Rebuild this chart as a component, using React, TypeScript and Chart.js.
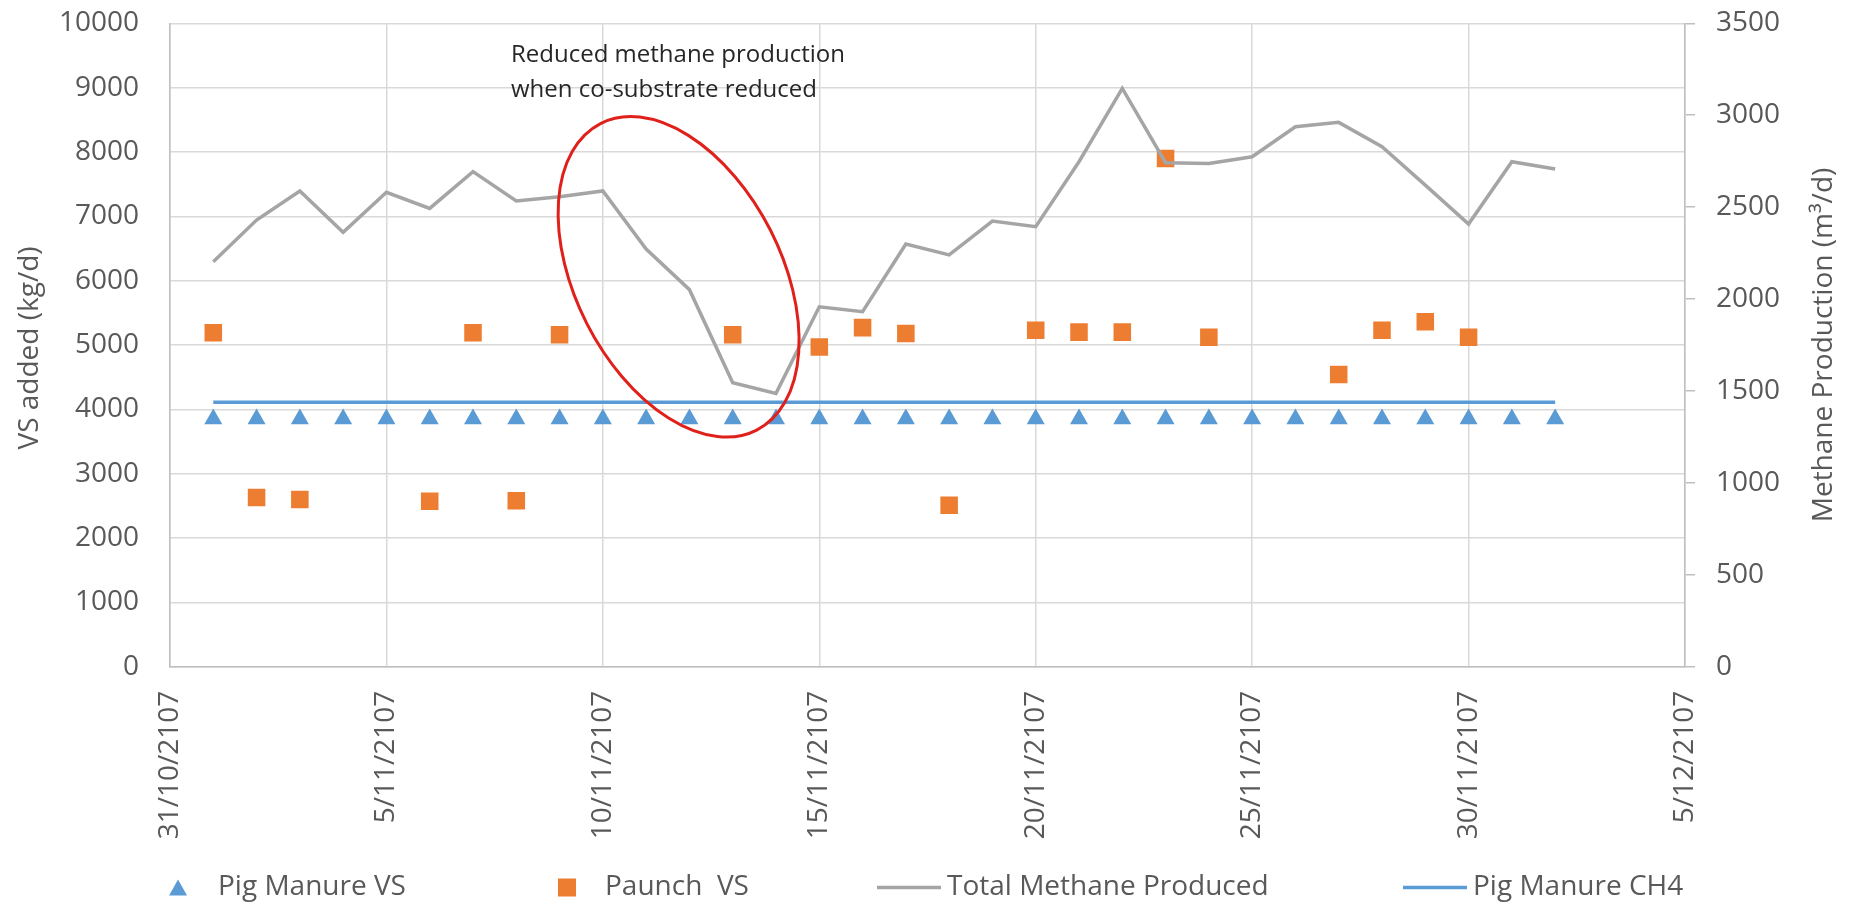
import React, { useEffect, useRef } from 'react';
import { Chart, registerables } from 'chart.js';

Chart.register(...registerables);

// ---------- data ----------
const xTickLabels = ['31/10/2107', '5/11/2107', '10/11/2107', '15/11/2107', '20/11/2107', '25/11/2107', '30/11/2107', '5/12/2107'];
const xTickStep = 5;

// day offsets from 31/10/2107
const dayOffsets = [1, 2, 3, 4, 5, 6, 7, 8, 9, 10, 11, 12, 13, 14, 15, 16, 17, 18, 19, 20, 21, 22, 23, 24, 25, 26, 27, 28, 29, 30, 31, 32];

const pigManureVS = [3850, 3850, 3850, 3850, 3850, 3850, 3850, 3850, 3850, 3850, 3850, 3850, 3850, 3850, 3850, 3850, 3850, 3850, 3850, 3850, 3850, 3850, 3850, 3850, 3850, 3850, 3850, 3850, 3850, 3850, 3850, 3850];

const paunchDays = [1, 2, 3, 6, 7, 8, 9, 13, 15, 16, 17, 18, 20, 21, 22, 23, 24, 27, 28, 29, 30];
const paunchVS = [5190, 2630, 2600, 2570, 5190, 2580, 5160, 5160, 4970, 5270, 5180, 2510, 5230, 5200, 5200, 7900, 5120, 4540, 5230, 5360, 5120];

const totalMethane = [2203, 2430, 2588, 2363, 2581, 2493, 2693, 2533, 2557, 2588, 2272, 2051, 1545, 1487, 1958, 1931, 2299, 2240, 2424, 2394, 2747, 3146, 2742, 2738, 2774, 2937, 2961, 2829, 2620, 2408, 2747, 2707];

const pigManureCH4 = [1438, 1438, 1438, 1438, 1438, 1438, 1438, 1438, 1438, 1438, 1438, 1438, 1438, 1438, 1438, 1438, 1438, 1438, 1438, 1438, 1438, 1438, 1438, 1438, 1438, 1438, 1438, 1438, 1438, 1438, 1438, 1438];

const seriesNames = ['Pig Manure VS', 'Paunch  VS', 'Total Methane Produced', 'Pig Manure CH4'];
const leftTitle = 'VS added (kg/d)';
const rightTitle = 'Methane Production (m\u00B3/d)';
const annotationLines = ['Reduced methane production', 'when co-substrate reduced'];
// annotation ellipse centre (day, kg/d)
const ellipseCenter = { day: 11.75, value: 6060 };

// ---------- styles ----------
const FONT = "'Open Sans', 'DejaVu Sans', sans-serif";
const TEXT = '#595959';
const GRID = '#d9d9d9';
const AXIS = '#bfbfbf';
const BLUE = '#5b9bd5';
const ORANGE = '#ed7d31';
const GRAY = '#a5a5a5';
const RED = '#e0201b';

export default function App() {
  const ref = useRef<HTMLCanvasElement>(null);

  useEffect(() => {
    document.body.style.margin = '0';
    const canvas = ref.current!;

    const overlay = {
      id: 'overlay',
      afterDatasetsDraw(chart: any) {
        const { ctx, scales } = chart;
        const cx = scales.x.getPixelForValue(ellipseCenter.day);
        const cy = scales.y.getPixelForValue(ellipseCenter.value);
        ctx.save();
        ctx.beginPath();
        ctx.ellipse(cx, cy, 103, 172, (-27 * Math.PI) / 180, 0, Math.PI * 2);
        ctx.strokeStyle = RED;
        ctx.lineWidth = 3;
        ctx.stroke();
        ctx.restore();
      },
      afterDraw(chart: any) {
        const { ctx, chartArea } = chart;
        const midY = (chartArea.top + chartArea.bottom) / 2;
        ctx.save();
        // axis titles
        ctx.fillStyle = TEXT;
        ctx.font = `28px ${FONT}`;
        ctx.textAlign = 'center';
        ctx.textBaseline = 'alphabetic';
        ctx.save();
        ctx.translate(38, midY + 3);
        ctx.rotate(-Math.PI / 2);
        ctx.fillText(leftTitle, 0, 0);
        ctx.restore();
        ctx.save();
        ctx.translate(1832, midY);
        ctx.rotate(-Math.PI / 2);
        ctx.fillText(rightTitle, 0, 0);
        ctx.restore();

        // annotation text
        ctx.fillStyle = '#262626';
        ctx.font = `24px ${FONT}`;
        ctx.textAlign = 'left';
        ctx.fillText(annotationLines[0], 511, 62);
        ctx.fillText(annotationLines[1], 511, 97);

        // legend
        const ly = 887.5;
        const base = 895;
        ctx.font = `28px ${FONT}`;
        // triangle
        ctx.beginPath();
        ctx.fillStyle = BLUE;
        ctx.moveTo(178, ly - 8);
        ctx.lineTo(187, ly + 8);
        ctx.lineTo(169, ly + 8);
        ctx.closePath();
        ctx.fill();
        ctx.fillStyle = TEXT;
        ctx.fillText(seriesNames[0], 218, base);
        // square
        ctx.fillStyle = ORANGE;
        ctx.fillRect(558, ly - 9, 18, 18);
        ctx.fillStyle = TEXT;
        ctx.fillText(seriesNames[1], 605, base);
        // gray line
        ctx.strokeStyle = GRAY;
        ctx.lineWidth = 3.5;
        ctx.beginPath();
        ctx.moveTo(877, ly);
        ctx.lineTo(941, ly);
        ctx.stroke();
        ctx.fillText(seriesNames[2], 947, base);
        // blue line
        ctx.strokeStyle = BLUE;
        ctx.lineWidth = 3.5;
        ctx.beginPath();
        ctx.moveTo(1403, ly);
        ctx.lineTo(1467, ly);
        ctx.stroke();
        ctx.fillText(seriesNames[3], 1473, base);
        ctx.restore();
      },
    };

    const chart = new Chart(canvas, {
      type: 'line',
      data: {
        datasets: [
          {
            label: seriesNames[2],
            data: dayOffsets.map((d, i) => ({ x: d, y: totalMethane[i] })),
            yAxisID: 'y2',
            borderColor: GRAY,
            borderWidth: 3.5,
            pointRadius: 0,
            tension: 0,
            order: 0,
          },
          {
            label: seriesNames[3],
            data: dayOffsets.map((d, i) => ({ x: d, y: pigManureCH4[i] })),
            yAxisID: 'y2',
            borderColor: BLUE,
            borderWidth: 3.5,
            pointRadius: 0,
            tension: 0,
            order: 1,
          },
          {
            label: seriesNames[0],
            data: dayOffsets.map((d, i) => ({ x: d, y: pigManureVS[i] })),
            yAxisID: 'y',
            showLine: false,
            pointStyle: 'triangle',
            pointRadius: 10.4,
            pointBackgroundColor: BLUE,
            pointBorderColor: BLUE,
            pointBorderWidth: 0,
            order: 2,
          },
          {
            label: seriesNames[1],
            data: paunchDays.map((d, i) => ({ x: d, y: paunchVS[i] })),
            yAxisID: 'y',
            showLine: false,
            pointStyle: 'rect',
            pointRadius: 12.4,
            pointBackgroundColor: ORANGE,
            pointBorderColor: ORANGE,
            pointBorderWidth: 0,
            order: 3,
          },
        ],
      },
      options: {
        responsive: false,
        animation: false,
        devicePixelRatio: 1,
        layout: { padding: { top: 23.3, left: 0, right: 0, bottom: 0 } },
        plugins: { legend: { display: false }, tooltip: { enabled: false } },
        scales: {
          x: {
            type: 'linear',
            min: 0,
            max: 35,
            afterFit: (s: any) => { s.height = 905 - 666.7; },
            afterBuildTicks: (s: any) => {
              s.ticks = xTickLabels.map((_, i) => ({ value: i * xTickStep }));
            },
            ticks: {
              stepSize: xTickStep,
              minRotation: 90,
              maxRotation: 90,
              padding: 24,
              color: TEXT,
              font: { family: FONT, size: 28 },
              callback: (v: any) => xTickLabels[Math.round(Number(v) / xTickStep)] ?? '',
            },
            grid: { color: GRID, lineWidth: 1.5, drawTicks: false },
            border: { color: AXIS, width: 1.5 },
          },
          y: {
            position: 'left',
            min: 0,
            max: 10000,
            afterFit: (s: any) => { s.width = 170; s.paddingTop = 0; s.paddingBottom = 0; },
            ticks: {
              stepSize: 1000,
              padding: 31,
              color: TEXT,
              font: { family: FONT, size: 28 },
              callback: (v: any) => String(v),
            },
            grid: { color: GRID, lineWidth: 1.5, drawTicks: false },
            border: { color: AXIS, width: 1.5 },
          },
          y2: {
            position: 'right',
            min: 0,
            max: 3500,
            afterFit: (s: any) => { s.width = 1852 - 1685; s.paddingTop = 0; s.paddingBottom = 0; },
            ticks: {
              stepSize: 500,
              padding: 21,
              color: TEXT,
              font: { family: FONT, size: 28 },
              callback: (v: any) => String(v),
            },
            grid: { drawOnChartArea: false, drawTicks: true, tickLength: 10, color: AXIS, lineWidth: 1.5 },
            border: { color: AXIS, width: 1.5 },
          },
        },
      },
      plugins: [overlay],
    });

    return () => chart.destroy();
  }, []);

  return (
    <canvas
      ref={ref}
      width={1852}
      height={905}
      style={{ display: 'block', width: '1852px', height: '905px' }}
    />
  );
}
